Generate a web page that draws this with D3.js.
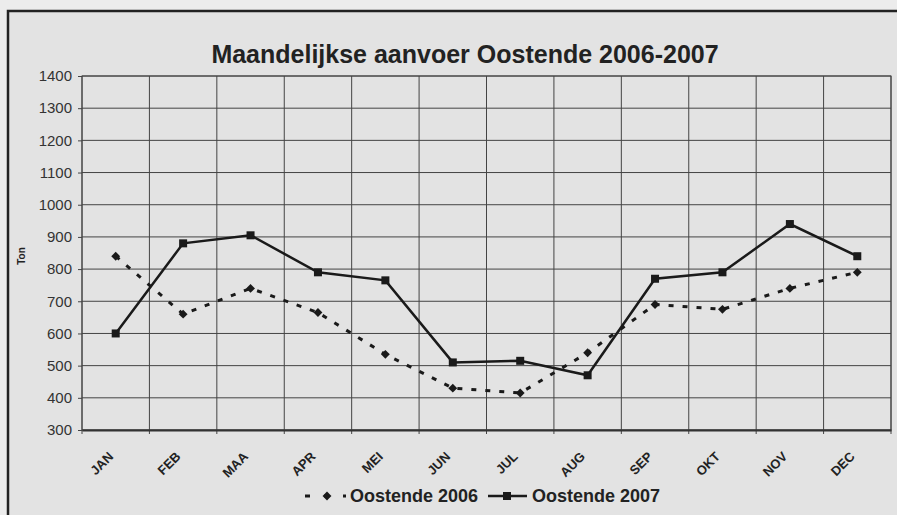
<!DOCTYPE html>
<html>
<head>
<meta charset="utf-8">
<script src="https://cdn.jsdelivr.net/npm/d3@7"></script>
<style>
    body { margin: 0; background: #e3e3e3; }
    #chart { width: 897px; height: 515px; }
    text { font-family: Arial, "Liberation Sans", sans-serif; }
</style>
</head>
<body>
<div id="chart"></div>
<script>
// data
let months = ["JAN", "FEB", "MAA", "APR", "MEI", "JUN", "JUL", "AUG", "SEP", "OKT", "NOV", "DEC"];
let values2006 = [840, 660, 740, 665, 535, 430, 415, 540, 690, 675, 740, 790];
let values2007 = [600, 880, 905, 790, 765, 510, 515, 470, 770, 790, 940, 840];
let yTicks = [300, 400, 500, 600, 700, 800, 900, 1000, 1100, 1200, 1300, 1400];
let seriesNames = ["Oostende 2006", "Oostende 2007"];

let margin = {top: 76, right: 6, bottom: 85, left: 82};
let width = 897 - margin.left - margin.right;
let height = 515 - margin.top - margin.bottom;

let svg = d3.select("#chart").append("svg")
    .attr("width", 897)
    .attr("height", 515);

// outer frame (only left and top visible in the scan)
svg.append("rect")
    .attr("x", 0).attr("y", 0)
    .attr("width", 7).attr("height", 515)
    .attr("fill", "#ececec");
svg.append("rect")
    .attr("x", 0).attr("y", 0)
    .attr("width", 897).attr("height", 11)
    .attr("fill", "#ececec");
svg.append("path")
    .attr("d", "M8,515 V11 H897")
    .attr("fill", "none")
    .attr("stroke", "#222")
    .attr("stroke-width", 2.5);

// title
svg.append("text")
    .attr("x", 465)
    .attr("y", 63)
    .attr("text-anchor", "middle")
    .attr("font-size", 25)
    .attr("font-weight", "bold")
    .attr("fill", "#222")
    .text("Maandelijkse aanvoer Oostende 2006-2007");

let g = svg.append("g")
    .attr("transform", "translate(" + margin.left + "," + margin.top + ")");

// scales
let x = d3.scaleBand()
    .domain(months)
    .range([0, width]);
let y = d3.scaleLinear()
    .domain([300, 1400])
    .range([height, 0]);

// grid
g.selectAll(".hgrid")
    .data(yTicks)
    .enter().append("line")
    .attr("class", "hgrid")
    .attr("x1", 0).attr("x2", width)
    .attr("y1", d => y(d)).attr("y2", d => y(d))
    .attr("stroke", "#444")
    .attr("stroke-width", 1);

let bounds = months.map(d => x(d)).concat([width]);
g.selectAll(".vgrid")
    .data(bounds)
    .enter().append("line")
    .attr("class", "vgrid")
    .attr("x1", d => d).attr("x2", d => d)
    .attr("y1", 0).attr("y2", height + 4)
    .attr("stroke", "#444")
    .attr("stroke-width", 1);

g.append("rect")
    .attr("width", width).attr("height", height)
    .attr("fill", "none")
    .attr("stroke", "#444")
    .attr("stroke-width", 1);

// y axis
let yAxis = d3.axisLeft(y)
    .tickValues(yTicks)
    .tickFormat(d3.format("d"))
    .tickSize(4)
    .tickPadding(6);
let yAxisG = g.append("g").call(yAxis);
yAxisG.select(".domain").remove();
yAxisG.selectAll("line").attr("stroke", "#444");
yAxisG.selectAll("text")
    .attr("font-size", 15)
    .attr("font-family", "Arial, 'Liberation Sans', sans-serif")
    .attr("fill", "#333");

// x axis labels
let xAxis = d3.axisBottom(x).tickSize(0);
let xAxisG = g.append("g")
    .attr("transform", "translate(0," + height + ")")
    .call(xAxis);
xAxisG.select(".domain")
    .attr("stroke", "#333")
    .attr("stroke-width", 2);
xAxisG.selectAll("text")
    .attr("font-size", 13)
    .attr("font-weight", "bold")
    .attr("font-family", "Arial, 'Liberation Sans', sans-serif")
    .attr("fill", "#222")
    .attr("text-anchor", "end")
    .attr("dy", "0.35em")
    .attr("transform", "translate(-7,22) rotate(-45)");

// axis title
svg.append("text")
    .attr("transform", "translate(25,256) rotate(-90)")
    .attr("text-anchor", "middle")
    .attr("font-size", 10)
    .attr("font-weight", "bold")
    .attr("fill", "#222")
    .text("Ton");

// lines
let line = d3.line()
    .x((d, i) => x(months[i]) + x.bandwidth() / 2)
    .y(d => y(d));

g.append("path")
    .datum(values2006)
    .attr("fill", "none")
    .attr("stroke", "#1a1a1a")
    .attr("stroke-width", 3)
    .attr("stroke-dasharray", "5,9")
    .attr("d", line);

g.append("path")
    .datum(values2007)
    .attr("fill", "none")
    .attr("stroke", "#1a1a1a")
    .attr("stroke-width", 2.5)
    .attr("d", line);

let diamond = d3.symbol().type(d3.symbolDiamond2).size(50);
g.selectAll(".m2006")
    .data(values2006)
    .enter().append("path")
    .attr("class", "m2006")
    .attr("d", diamond)
    .attr("transform", (d, i) => "translate(" + (x(months[i]) + x.bandwidth() / 2) + "," + y(d) + ")")
    .attr("fill", "#1a1a1a");

g.selectAll(".m2007")
    .data(values2007)
    .enter().append("rect")
    .attr("class", "m2007")
    .attr("x", (d, i) => x(months[i]) + x.bandwidth() / 2 - 4)
    .attr("y", d => y(d) - 4)
    .attr("width", 8).attr("height", 8)
    .attr("fill", "#1a1a1a");

// legend
let legend = svg.append("g").attr("transform", "translate(0,496)");
legend.append("line")
    .attr("x1", 305).attr("x2", 346)
    .attr("y1", 0).attr("y2", 0)
    .attr("stroke", "#1a1a1a")
    .attr("stroke-width", 3)
    .attr("stroke-dasharray", "5,14");
legend.append("path")
    .attr("d", diamond)
    .attr("transform", "translate(327,0)")
    .attr("fill", "#1a1a1a");
legend.append("text")
    .attr("x", 350).attr("y", 0)
    .attr("dy", "0.35em")
    .attr("font-size", 18)
    .attr("font-weight", "bold")
    .attr("fill", "#222")
    .text(seriesNames[0]);

legend.append("line")
    .attr("x1", 488).attr("x2", 527)
    .attr("y1", 0).attr("y2", 0)
    .attr("stroke", "#1a1a1a")
    .attr("stroke-width", 2.5);
legend.append("rect")
    .attr("x", 503).attr("y", -4)
    .attr("width", 8).attr("height", 8)
    .attr("fill", "#1a1a1a");
legend.append("text")
    .attr("x", 532).attr("y", 0)
    .attr("dy", "0.35em")
    .attr("font-size", 18)
    .attr("font-weight", "bold")
    .attr("fill", "#222")
    .text(seriesNames[1]);
</script>
</body>
</html>
